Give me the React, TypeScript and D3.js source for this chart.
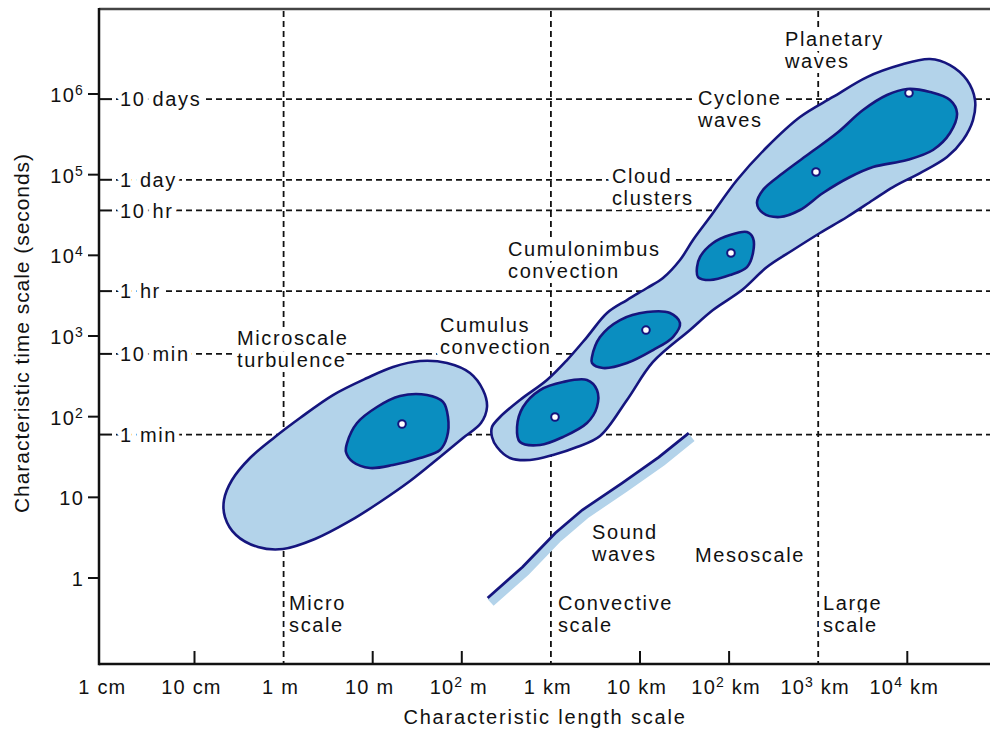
import React, { useEffect, useRef } from 'react';
import * as d3 from 'd3';

type Pt = [number, number]; // [log10 length (m), log10 time (s)]

// x axis: characteristic length, metres
const lengthTicks = [1e-2, 1e-1, 1, 10, 100, 1e3, 1e4, 1e5, 1e6, 1e7];
const lengthLabels: [string, string, string][] = [
  ['1', '', ' cm'],
  ['10', '', ' cm'],
  ['1', '', ' m'],
  ['10', '', ' m'],
  ['10', '2', ' m'],
  ['1', '', ' km'],
  ['10', '', ' km'],
  ['10', '2', ' km'],
  ['10', '3', ' km'],
  ['10', '4', ' km'],
];
const scaleBounds = [1, 1e3, 1e6];

// y axis: characteristic time, seconds
const timeTicks = [1, 10, 100, 1e3, 1e4, 1e5, 1e6];
const timeLabels: [string, string][] = [
  ['1', ''],
  ['10', ''],
  ['10', '2'],
  ['10', '3'],
  ['10', '4'],
  ['10', '5'],
  ['10', '6'],
];
const namedTimes = ['10 days', '1 day', '10 hr', '1 hr', '10 min', '1 min'];
const namedSeconds = [864000, 86400, 36000, 3600, 600, 60];

const microOuter: Pt[] = [
  [2.283, 2.12], [2.215, 1.921], [2.013, 1.735], [1.755, 1.5], [1.419, 1.202],
  [1.082, 0.942], [0.745, 0.707], [0.352, 0.483], [-0.007, 0.359], [-0.287, 0.384],
  [-0.534, 0.533], [-0.658, 0.756], [-0.669, 0.967], [-0.579, 1.215], [-0.377, 1.488],
  [-0.097, 1.748], [0.184, 1.983], [0.554, 2.268], [0.936, 2.479], [1.228, 2.616],
  [1.531, 2.69], [1.834, 2.665], [2.092, 2.541], [2.238, 2.33],
];
const microCore: Pt[] = [
  [0.712, 1.673], [0.824, 1.921], [1.048, 2.12], [1.306, 2.256], [1.609, 2.268],
  [1.789, 2.182], [1.845, 1.996], [1.834, 1.748], [1.755, 1.587], [1.531, 1.488],
  [1.228, 1.401], [0.97, 1.364], [0.779, 1.438], [0.7, 1.562],
];
const weatherOuter: Pt[] = [
  [2.339, 1.872], [2.429, 1.996], [2.653, 2.207], [2.956, 2.454], [3.181, 2.702],
  [3.405, 2.987], [3.63, 3.285], [3.854, 3.446], [4.079, 3.595], [4.258, 3.719],
  [4.449, 3.942], [4.595, 4.19], [4.786, 4.475], [5.089, 4.934], [5.425, 5.343],
  [5.796, 5.715], [6.166, 5.963], [6.548, 6.21], [6.918, 6.359], [7.255, 6.434],
  [7.479, 6.359], [7.67, 6.173], [7.76, 5.925], [7.737, 5.677], [7.625, 5.43],
  [7.446, 5.219], [7.143, 5.02], [6.84, 4.847], [6.615, 4.686], [6.323, 4.475],
  [6.02, 4.277], [5.717, 4.066], [5.425, 3.855], [5.145, 3.57], [4.819, 3.322],
  [4.561, 3.074], [4.146, 2.678], [3.854, 2.207], [3.551, 1.76], [3.293, 1.624],
  [3.024, 1.525], [2.765, 1.463], [2.541, 1.488], [2.395, 1.624], [2.339, 1.748],
];
const cumulusCore: Pt[] = [
  [2.62, 1.872], [2.687, 2.12], [2.878, 2.33], [3.136, 2.43], [3.405, 2.454],
  [3.517, 2.33], [3.517, 2.12], [3.405, 1.921], [3.136, 1.748], [2.878, 1.649],
  [2.653, 1.686],
];
const cumulusLargeCore: Pt[] = [
  [3.461, 2.74], [3.551, 2.987], [3.776, 3.198], [4.079, 3.297], [4.337, 3.285],
  [4.449, 3.161], [4.37, 2.987], [4.146, 2.826], [3.854, 2.665], [3.585, 2.603],
  [3.461, 2.665],
];
const cumulonimbusCore: Pt[] = [
  [4.64, 3.855], [4.673, 3.979], [4.819, 4.153], [5.01, 4.252], [5.201, 4.289],
  [5.268, 4.215], [5.268, 4.029], [5.201, 3.855], [5.01, 3.756], [4.786, 3.694],
  [4.651, 3.731],
];
const synopticCore: Pt[] = [
  [5.313, 4.649], [5.38, 4.81], [5.605, 5.02], [5.908, 5.268], [6.211, 5.516],
  [6.503, 5.801], [6.772, 5.987], [6.997, 6.062], [7.255, 6.025], [7.479, 5.925],
  [7.558, 5.764], [7.479, 5.516], [7.288, 5.306], [6.997, 5.182], [6.615, 5.095],
  [6.357, 4.971], [6.054, 4.773], [5.796, 4.562], [5.571, 4.475], [5.38, 4.525],
];
const peaks: Pt[] = [
  [1.329, 1.909], [3.046, 1.996], [4.067, 3.074], [5.021, 4.029], [5.975, 5.033], [7.019, 6.012],
];
const soundWave: Pt[] = [
  [2.29, -0.248], [2.682, 0.136], [3.05, 0.558], [3.352, 0.843], [3.799, 1.177],
  [4.212, 1.499], [4.547, 1.797],
];

// annotations: lines of text anchored at [log10 length, log10 time]
const notes: { at: Pt; lines: string[] }[] = [
  { at: [-0.523, 2.888], lines: ['Microscale', 'turbulence'] },
  { at: [1.755, 3.049], lines: ['Cumulus', 'convection'] },
  { at: [2.519, 3.992], lines: ['Cumulonimbus', 'convection'] },
  { at: [3.686, 4.896], lines: ['Cloud', 'clusters'] },
  { at: [4.651, 5.863], lines: ['Cyclone', 'waves'] },
  { at: [5.627, 6.595], lines: ['Planetary', 'waves'] },
  { at: [3.461, 0.483], lines: ['Sound', 'waves'] },
  { at: [4.617, 0.198], lines: ['Mesoscale'] },
  { at: [0.061, -0.397], lines: ['Micro', 'scale'] },
  { at: [3.08, -0.397], lines: ['Convective', 'scale'] },
  { at: [6.054, -0.397], lines: ['Large', 'scale'] },
];

const NAVY = '#15157e';
const LIGHT = '#b3d3ea';
const DARK = '#0a8ec0';
const FONT = '"Liberation Sans", Arial, Helvetica, sans-serif';

export default function App() {
  const ref = useRef<SVGSVGElement>(null);

  useEffect(() => {
    document.body.style.margin = '0';
    const width = 990;
    const height = 732;
    const left = 99;
    const top = 9;
    const bottom = 664;

    const x = d3.scaleLog().domain([1e-2, 1e8]).range([105.4, 105.4 + 891]);
    const y = d3.scaleLog().domain([1, 1e6]).range([578, 94]);
    const px = (p: Pt) => x(Math.pow(10, p[0]));
    const py = (p: Pt) => y(Math.pow(10, p[1]));

    const svg = d3.select(ref.current);
    svg.selectAll('*').remove();
    svg
      .attr('width', width)
      .attr('height', height)
      .attr('font-family', FONT)
      .attr('fill', '#111');

    // dashed reference lines
    const grid = svg.append('g').attr('stroke', '#111').attr('stroke-width', 1.8).attr('stroke-dasharray', '6,4');
    grid
      .selectAll('line.h')
      .data(namedSeconds)
      .enter()
      .append('line')
      .attr('x1', 116)
      .attr('x2', width)
      .attr('y1', (d) => y(d))
      .attr('y2', (d) => y(d));
    grid
      .selectAll('line.v')
      .data(scaleBounds)
      .enter()
      .append('line')
      .attr('x1', (d) => x(d))
      .attr('x2', (d) => x(d))
      .attr('y1', top + 2)
      .attr('y2', bottom);

    // annotations, with white halo cutting the dashed lines
    const noteG = svg
      .append('g')
      .attr('font-size', 20)
      .attr('letter-spacing', 1.6)
      .attr('stroke', '#fff')
      .attr('stroke-width', 10)
      .attr('stroke-linejoin', 'round')
      .attr('paint-order', 'stroke');
    notes.forEach((n) => {
      const t = noteG.append('text').attr('x', px(n.at)).attr('y', py(n.at));
      n.lines.forEach((l, i) => {
        t.append('tspan')
          .attr('x', px(n.at))
          .attr('dy', i === 0 ? 0 : 22)
          .text(l);
      });
    });

    // named time ticks
    namedTimes.forEach((name, i) => {
      noteG
        .append('text')
        .attr('x', 120)
        .attr('y', y(namedSeconds[i]))
        .attr('dy', '0.36em')
        .text(name);
    });

    // regions
    const closed = d3
      .line<Pt>()
      .x(px)
      .y(py)
      .curve(d3.curveCatmullRomClosed.alpha(0.5));
    const blobs = svg.append('g').attr('stroke', NAVY).attr('stroke-width', 2.6);
    [microOuter, weatherOuter].forEach((b) => {
      blobs.append('path').attr('d', closed(b)).attr('fill', LIGHT);
    });
    [microCore, cumulusCore, cumulusLargeCore, cumulonimbusCore, synopticCore].forEach((b) => {
      blobs.append('path').attr('d', closed(b)).attr('fill', DARK);
    });
    blobs
      .selectAll('circle')
      .data(peaks)
      .enter()
      .append('circle')
      .attr('cx', px)
      .attr('cy', py)
      .attr('r', 3.8)
      .attr('fill', '#fff')
      .attr('stroke-width', 2);

    // sound waves
    const open = d3.line<Pt>().x(px).y(py);
    svg
      .append('path')
      .attr('d', open(soundWave))
      .attr('fill', 'none')
      .attr('stroke', LIGHT)
      .attr('stroke-width', 9)
      .attr('transform', 'translate(3,4.5)');
    svg
      .append('path')
      .attr('d', open(soundWave))
      .attr('fill', 'none')
      .attr('stroke', NAVY)
      .attr('stroke-width', 2.8);

    // frame and axes
    svg
      .append('line')
      .attr('x1', left)
      .attr('x2', width)
      .attr('y1', top)
      .attr('y2', top)
      .attr('stroke', '#444')
      .attr('stroke-width', 2.5);
    const axes = svg.append('g').attr('stroke', '#111').attr('stroke-width', 2.5);
    axes.append('line').attr('x1', left).attr('x2', left).attr('y1', top - 1).attr('y2', bottom + 1.2);
    axes.append('line').attr('x1', left).attr('x2', width).attr('y1', bottom).attr('y2', bottom);

    axes
      .selectAll('line.yt')
      .data(timeTicks)
      .enter()
      .append('line')
      .attr('x1', left - 11)
      .attr('x2', left)
      .attr('y1', (d) => y(d))
      .attr('y2', (d) => y(d))
      .attr('stroke-width', 2);
    axes
      .selectAll('line.nt')
      .data(namedSeconds)
      .enter()
      .append('line')
      .attr('x1', left)
      .attr('x2', left + 13)
      .attr('y1', (d) => y(d))
      .attr('y2', (d) => y(d))
      .attr('stroke-width', 2);
    axes
      .selectAll('line.xt')
      .data(lengthTicks.filter((d) => d > 1e-2 && !scaleBounds.includes(d)))
      .enter()
      .append('line')
      .attr('x1', (d) => x(d))
      .attr('x2', (d) => x(d))
      .attr('y1', bottom)
      .attr('y2', bottom - 13)
      .attr('stroke-width', 2);

    const labels = svg.append('g').attr('font-size', 20).attr('letter-spacing', 1.2);
    timeTicks.forEach((v, i) => {
      const [main, sup] = timeLabels[i];
      const t = labels
        .append('text')
        .attr('x', 84)
        .attr('y', y(v))
        .attr('dy', '0.4em')
        .attr('text-anchor', 'end');
      t.append('tspan').text(main);
      if (sup) t.append('tspan').attr('font-size', 14).attr('dy', -7).text(sup);
    });
    lengthTicks.forEach((v, i) => {
      const [main, sup, unit] = lengthLabels[i];
      const t = labels
        .append('text')
        .attr('x', x(v) - 3)
        .attr('y', 694)
        .attr('text-anchor', 'middle');
      t.append('tspan').text(main);
      if (sup) t.append('tspan').attr('font-size', 14).attr('dy', -7).text(sup);
      t.append('tspan').attr('dy', sup ? 7 : 0).text(unit);
    });

    svg
      .append('text')
      .attr('x', 545)
      .attr('y', 724)
      .attr('text-anchor', 'middle')
      .attr('font-size', 20)
      .attr('letter-spacing', 1.8)
      .text('Characteristic length scale');
    svg
      .append('text')
      .attr('transform', 'translate(22,333) rotate(-90)')
      .attr('text-anchor', 'middle')
      .attr('dy', '0.35em')
      .attr('font-size', 21)
      .attr('letter-spacing', 0.95)
      .text('Characteristic time scale (seconds)');
  }, []);

  return <svg ref={ref} style={{ display: 'block' }}></svg>;
}
